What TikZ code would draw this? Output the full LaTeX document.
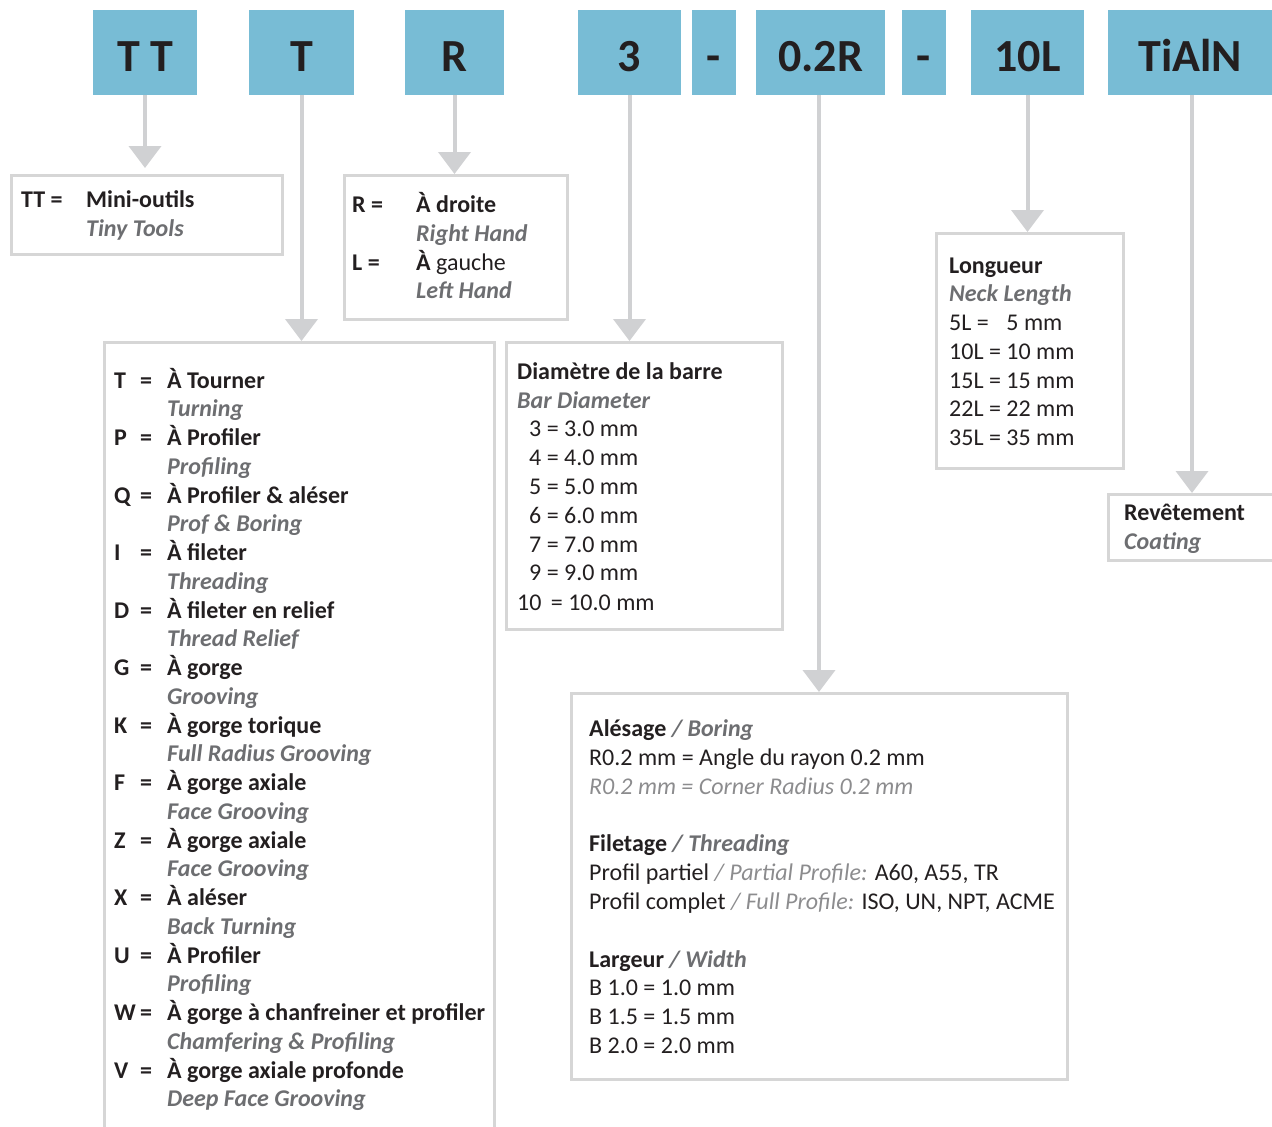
\documentclass[tikz,border=0pt]{standalone}
\usepackage{fontspec}
\setmainfont{Carlito}
\usetikzlibrary{arrows.meta}
\definecolor{codeblue}{RGB}{120,188,213}
\definecolor{linegray}{RGB}{208,209,211}
\definecolor{boxgray}{RGB}{214,214,214}
\definecolor{inkblack}{RGB}{35,31,32}
\definecolor{engray}{RGB}{109,110,113}
\definecolor{softgray}{RGB}{140,140,142}
\newcommand{\eng}[1]{{\bfseries\itshape\color{engray}#1}}
\newcommand{\soft}[1]{{\itshape\color{softgray}#1}}
\begin{document}
\begin{tikzpicture}[
  x = 1pt, y = -1pt,
  codebox/.style = {fill = codeblue, inner sep = 0pt, minimum height = 85pt,
                    text height = 37pt, text depth = 0pt, text = inkblack,
                    font = \fontsize{46}{50}\selectfont\bfseries},
  infobox/.style = {draw = boxgray, line width = 3pt, inner sep = 0pt, anchor = north west},
  plaintxt/.style = {anchor = base west, inner sep = 0pt, text = inkblack,
                     font = \fontsize{24}{28}\selectfont},
  boldtxt/.style = {plaintxt, font = \fontsize{24}{28}\selectfont\bfseries},
  leadline/.style = {draw = linegray, line width = 4pt, -{Triangle[width = 32pt, length = 22pt]}},
  ]
  \useasboundingbox (0,0) rectangle (1272,1127);
  \clip (0,0) rectangle (1272,1127);
  % code parts
  \node[codebox, minimum width = 104pt] (tt)    at (145,52.5)    {T T};
  \node[codebox, minimum width = 105pt] (t)     at (301.5,52.5)  {T};
  \node[codebox, minimum width = 99pt]  (r)     at (454.5,52.5)  {R};
  \node[codebox, minimum width = 103pt] (dia)   at (629.5,52.5)  {3};
  \node[codebox, minimum width = 44pt]  (dashA) at (714,52.5)    {-};
  \node[codebox, minimum width = 129pt] (rad)   at (820.5,52.5)  {0.2R};
  \node[codebox, minimum width = 44pt]  (dashB) at (924,52.5)    {-};
  \node[codebox, minimum width = 113pt] (len)   at (1027.5,52.5) {10L};
  \node[codebox, minimum width = 164pt] (coat)  at (1190,52.5)   {TiAlN};
  % boxes
  \node[infobox, minimum width = 271pt, minimum height = 79pt]  (ttbox)   at (10,174)   {};
  \node[infobox, minimum width = 223pt, minimum height = 144pt] (rbox)    at (343,174)  {};
  \node[infobox, minimum width = 390pt, minimum height = 800pt] (tbox)    at (103,341)  {};
  \node[infobox, minimum width = 276pt, minimum height = 287pt] (diabox)  at (505,341)  {};
  \node[infobox, minimum width = 496pt, minimum height = 386pt] (radbox)  at (570,692)  {};
  \node[infobox, minimum width = 187pt, minimum height = 235pt] (lenbox)  at (935,232)  {};
  \node[infobox, minimum width = 183pt, minimum height = 66pt]  (coatbox) at (1107,493) {};
  % arrows
  \draw[leadline, shorten >= 6pt] (tt.south) -- (tt.south |- ttbox.north);
  \draw[leadline] (t.south)   -- (t.south |- tbox.north);
  \draw[leadline] (r.south)   -- (r.south |- rbox.north);
  \draw[leadline] (dia.south) -- (dia.south |- diabox.north);
  \draw[leadline] ([xshift = -1.5pt]rad.south) -- ([xshift = -1.5pt]rad.south |- radbox.north);
  \draw[leadline] (len.south) -- (len.south |- lenbox.north);
  \draw[leadline] ([xshift = 2pt]coat.south) -- ([xshift = 2pt]coat.south |- coatbox.north);
  % TT
  \node[boldtxt] (ttkey) at (21,207) {TT =};
  \node[boldtxt] (ttfr)  at (86,207) {Mini-outils};
  \node[plaintxt] (tten) at (86,236) {\eng{Tiny Tools}};
  % R / L
  \node[boldtxt] (rkey) at (352,212) {R =};
  \node[boldtxt] (rfr)  at (416,212) {À droite};
  \node[plaintxt] (ren) at (416,241) {\eng{Right Hand}};
  \node[boldtxt] (lkey) at (352,270) {L =};
  \node[plaintxt] (lfr) at (416,270) {\textbf{À} gauche};
  \node[plaintxt] (len2) at (416,298) {\eng{Left Hand}};
  % T
  \foreach \k/\fr/\en [count = \i from 0] in {
      T/À Tourner/Turning,
      P/À Profiler/Profiling,
      Q/À Profiler \& aléser/Prof \& Boring,
      I/À fileter/Threading,
      D/À fileter en relief/Thread Relief,
      G/À gorge/Grooving,
      K/À gorge torique/Full Radius Grooving,
      F/À gorge axiale/Face Grooving,
      Z/À gorge axiale/Face Grooving,
      X/À aléser/Back Turning,
      U/À Profiler/Profiling,
      W/À gorge à chanfreiner et profiler/Chamfering \& Profiling,
      V/À gorge axiale profonde/Deep Face Grooving} {
    \node[boldtxt] (tk\i)  at (114,{388+57.5*\i}) {\k};
    \node[boldtxt] (teq\i) at (140,{388+57.5*\i}) {=};
    \node[boldtxt] (tfr\i) at (167,{388+57.5*\i}) {\fr};
    \node[plaintxt] (ten\i) at (167,{416.75+57.5*\i}) {\eng{\en}};
  }
  % diameter
  \node[boldtxt] (diafr)  at (517,379) {Diamètre de la barre};
  \node[plaintxt] (diaen) at (517,408) {\eng{Bar Diameter}};
  \foreach \d [count = \i from 2] in {3,4,5,6,7,9}
    \node[plaintxt] (dia\d) at (529,{379+28.85*\i}) {\d\ = \d.0 mm};
  \node[plaintxt] (dia10) at (517,610) {10 \,= 10.0 mm};
  % radius
  \node[plaintxt] (rad1) at (589,736) {\textbf{Alésage} \eng{/ Boring}};
  \node[plaintxt] (rad2) at (589,765) {R0.2 mm = Angle du rayon 0.2 mm};
  \node[plaintxt] (rad3) at (589,794) {\soft{R0.2 mm = Corner Radius 0.2 mm}};
  \node[plaintxt] (rad4) at (589,851) {\textbf{Filetage} \eng{/ Threading}};
  \node[plaintxt] (rad5) at (589,880) {Profil partiel \soft{/ Partial Profile:} A60, A55, TR};
  \node[plaintxt] (rad6) at (589,909) {Profil complet \soft{/ Full Profile:} ISO, UN, NPT, ACME};
  \node[plaintxt] (rad7) at (589,967) {\textbf{Largeur} \eng{/ Width}};
  \node[plaintxt] (rad8) at (589,995) {B 1.0 = 1.0 mm};
  \node[plaintxt] (rad9) at (589,1024) {B 1.5 = 1.5 mm};
  \node[plaintxt] (rad10) at (589,1053) {B 2.0 = 2.0 mm};
  % length
  \node[boldtxt] (lenfr)  at (949,273) {Longueur};
  \node[plaintxt] (lenen) at (949,301) {\eng{Neck Length}};
  \node[plaintxt] (len5)  at (949,330) {5L = \phantom{1}5 mm};
  \foreach \l [count = \i from 3] in {10,15,22,35}
    \node[plaintxt] (len\l) at (949,{273+28.75*\i}) {\l L = \l\ mm};
  % coating
  \node[boldtxt] (coatfr)  at (1124,520) {Revêtement};
  \node[plaintxt] (coaten) at (1124,549) {\eng{Coating}};
\end{tikzpicture}
\end{document}
